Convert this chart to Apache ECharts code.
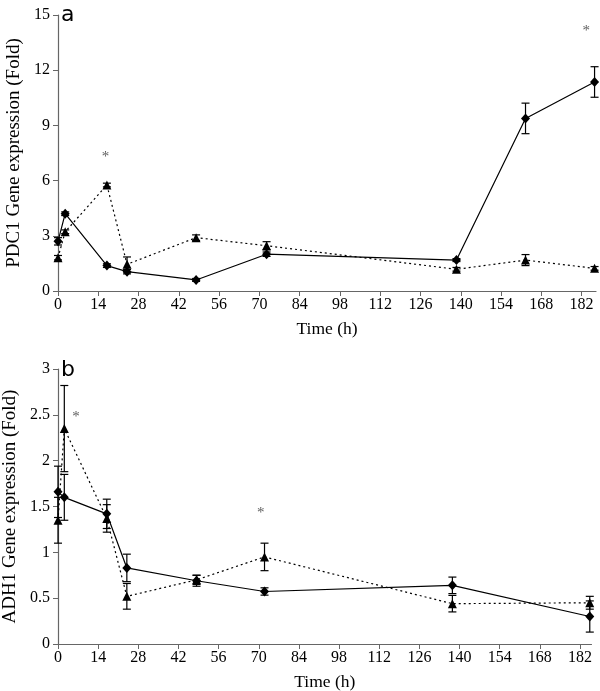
<!DOCTYPE html>
<html><head><meta charset="utf-8">
<script src="https://cdn.jsdelivr.net/npm/echarts@6/dist/echarts.min.js"></script>
<style>html,body{margin:0;padding:0;background:#fff}#c{width:600px;height:691px}</style>
</head><body><div id="c"></div>
<script>
// ---- Data ----
var xTicks = [0, 14, 28, 42, 56, 70, 84, 98, 112, 126, 140, 154, 168, 182];
var yTicksA = [0, 3, 6, 9, 12, 15];
var yTicksB = [0, 0.5, 1, 1.5, 2, 2.5, 3];

var timeA = [0, 2.5, 17, 24, 48, 72.5, 138.5, 162.5, 186.5];
var pdcDiamond = [2.7, 4.2, 1.38, 1.05, 0.6, 2.0, 1.68, 9.38, 11.36];
var pdcDiamondErr = [0.2, 0.1, 0.1, 0.12, 0.08, 0.12, 0.08, 0.83, 0.83];
var pdcTriangle = [1.81, 3.22, 5.76, 1.45, 2.9, 2.46, 1.18, 1.68, 1.23];
var pdcTriangleErr = [0.12, 0.1, 0.1, 0.4, 0.15, 0.22, 0.1, 0.3, 0.1];
var starsA = [[16.5, 7.3], [183.6, 14.1]];

var timeB = [0, 2.2, 17, 24, 48.3, 72, 137.5, 185.4];
var adhDiamond = [1.66, 1.60, 1.42, 0.83, 0.69, 0.573, 0.64, 0.30];
var adhDiamondErr = [0.28, 0.25, 0.16, 0.15, 0.06, 0.04, 0.09, 0.17];
var adhTriangle = [1.35, 2.35, 1.37, 0.52, 0.70, 0.95, 0.44, 0.45];
var adhTriangleErr = [0.25, 0.47, 0.15, 0.14, 0.05, 0.15, 0.09, 0.07];
var starsB = [[6.3, 2.48], [70.7, 1.43]];

// ---- Helpers ----
function pairs(t, v) { return t.map(function (x, i) { return [x, v[i]]; }); }
function errData(t, v, e) { return t.map(function (x, i) { return [x, v[i] - e[i], v[i] + e[i]]; }); }
var SERIF = 'Liberation Serif';
var axisCol = '#666';

function errSeries(idx, data) {
  return {
    type: 'custom', xAxisIndex: idx, yAxisIndex: idx, z: 3, silent: true,
    data: data,
    renderItem: function (params, api) {
      var x = api.value(0);
      var lo = api.coord([x, api.value(1)]);
      var hi = api.coord([x, api.value(2)]);
      var w = 4;
      var st = { stroke: '#000', lineWidth: 1.2 };
      return { type: 'group', children: [
        { type: 'line', shape: { x1: lo[0], y1: lo[1], x2: hi[0], y2: hi[1] }, style: st },
        { type: 'line', shape: { x1: lo[0] - w, y1: lo[1], x2: lo[0] + w, y2: lo[1] }, style: st },
        { type: 'line', shape: { x1: hi[0] - w, y1: hi[1], x2: hi[0] + w, y2: hi[1] }, style: st }
      ] };
    }
  };
}
function lineSeries(idx, data, dotted, sym) {
  return {
    type: 'line', xAxisIndex: idx, yAxisIndex: idx, data: data, z: 4,
    symbol: sym, symbolSize: sym === 'triangle' ? 9 : [9, 10],
    itemStyle: { color: '#000' },
    lineStyle: { color: '#000', width: 1.2, type: dotted ? [2, 3] : 'solid' },
    animation: false
  };
}
function starSeries(idx, data) {
  return {
    type: 'scatter', xAxisIndex: idx, yAxisIndex: idx, data: data, symbolSize: 1,
    itemStyle: { color: 'rgba(0,0,0,0)' },
    label: { show: true, position: 'inside', formatter: '*', color: '#333', fontSize: 15, fontFamily: SERIF }
  };
}
function xAxis(idx, max) {
  return {
    type: 'value', gridIndex: idx, min: 0, max: max, interval: 14,
    name: 'Time (h)', nameLocation: 'middle', nameGap: 29,
    nameTextStyle: { fontFamily: SERIF, fontSize: 17.5, color: '#000' },
    axisLine: { show: true, lineStyle: { color: axisCol, width: 1.2 } },
    axisTick: { show: true, length: 5, inside: false, lineStyle: { color: axisCol }, customValues: xTicks },
    axisLabel: { fontFamily: SERIF, fontSize: 16, color: '#000', margin: 6, customValues: xTicks },
    splitLine: { show: false }
  };
}
function yAxis(idx, max, interval, ticks, name) {
  return {
    type: 'value', gridIndex: idx, min: 0, max: max, interval: interval,
    name: name, nameLocation: 'middle', nameGap: 33, nameRotate: 90,
    nameTextStyle: { fontFamily: SERIF, fontSize: 19, color: '#000' },
    axisLine: { show: true, lineStyle: { color: axisCol, width: 1.2 } },
    axisTick: { show: true, length: 5, inside: false, lineStyle: { color: axisCol }, customValues: ticks },
    axisLabel: { fontFamily: SERIF, fontSize: 16, color: '#000', margin: 8, customValues: ticks },
    splitLine: { show: false }
  };
}

var chart = echarts.init(document.getElementById('c'), null, { renderer: 'canvas' });
chart.setOption({
  animation: false,
  backgroundColor: '#fff',
  title: [
    { text: 'a', left: 61, top: 4, padding: 0, textStyle: { fontFamily: 'DejaVu Sans', fontWeight: 'normal', fontSize: 22, color: '#000' } },
    { text: 'b', left: 61, top: 359, padding: 0, textStyle: { fontFamily: 'DejaVu Sans', fontWeight: 'normal', fontSize: 22, color: '#000' } }
  ],
  grid: [
    { left: 58, top: 15, width: 538, height: 276, containLabel: false, outerBoundsMode: 'none' },
    { left: 58, top: 369, width: 533.5, height: 275, containLabel: false, outerBoundsMode: 'none' }
  ],
  xAxis: [xAxis(0, 187), xAxis(1, 186)],
  yAxis: [
    yAxis(0, 15, 3, yTicksA, 'PDC1 Gene expression (Fold)'),
    yAxis(1, 3, 0.5, yTicksB, 'ADH1 Gene expression (Fold)')
  ],
  series: [
    errSeries(0, errData(timeA, pdcDiamond, pdcDiamondErr)),
    errSeries(0, errData(timeA, pdcTriangle, pdcTriangleErr)),
    lineSeries(0, pairs(timeA, pdcDiamond), false, 'diamond'),
    lineSeries(0, pairs(timeA, pdcTriangle), true, 'triangle'),
    starSeries(0, starsA),
    errSeries(1, errData(timeB, adhDiamond, adhDiamondErr)),
    errSeries(1, errData(timeB, adhTriangle, adhTriangleErr)),
    lineSeries(1, pairs(timeB, adhDiamond), false, 'diamond'),
    lineSeries(1, pairs(timeB, adhTriangle), true, 'triangle'),
    starSeries(1, starsB)
  ]
});
</script></body></html>
